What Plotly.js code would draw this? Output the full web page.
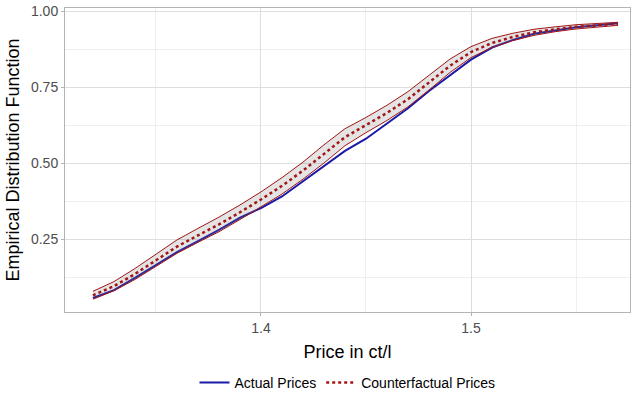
<!DOCTYPE html>
<html>
<head>
<script src="https://cdn.plot.ly/plotly-3.0.1.min.js"></script>
<style>body{margin:0}#plot{width:639px;height:403px}</style>
</head>
<body>
<div id="plot"></div>
<script>
const price = [1.32,1.33,1.34,1.35,1.36,1.37,1.38,1.39,1.40,1.41,1.42,1.43,1.44,1.45,1.46,1.47,1.48,1.49,1.50,1.51,1.52,1.53,1.54,1.55,1.56,1.57];
const actual = [0.056,0.082,0.122,0.165,0.207,0.243,0.28,0.32,0.352,0.39,0.44,0.49,0.54,0.58,0.63,0.68,0.737,0.79,0.84,0.88,0.905,0.925,0.937,0.947,0.953,0.96];
const counterfactual = [0.065,0.095,0.135,0.18,0.225,0.262,0.298,0.338,0.38,0.425,0.475,0.53,0.585,0.625,0.665,0.71,0.765,0.82,0.865,0.895,0.915,0.93,0.94,0.948,0.953,0.958];
const cfUpper = [0.078,0.11,0.153,0.2,0.247,0.285,0.322,0.362,0.405,0.452,0.503,0.56,0.613,0.65,0.69,0.735,0.79,0.842,0.883,0.91,0.927,0.94,0.948,0.955,0.959,0.963];
const cfLower = [0.052,0.08,0.117,0.16,0.203,0.239,0.274,0.314,0.355,0.398,0.447,0.5,0.557,0.6,0.64,0.685,0.74,0.798,0.847,0.88,0.903,0.92,0.932,0.941,0.947,0.953];

const red = '#a31515';
const data = [
  {x: price, y: actual, mode: 'lines', name: 'Actual Prices', line: {color: '#1a1aa6', width: 2}},
  {x: price, y: cfLower, mode: 'lines', line: {color: red, width: 1}, showlegend: false, hoverinfo: 'skip'},
  {x: price, y: cfUpper, mode: 'lines', line: {color: red, width: 1}, fill: 'tonexty',
   fillcolor: 'rgba(120,120,120,0.2)', showlegend: false, hoverinfo: 'skip'},
  {x: price, y: counterfactual, mode: 'lines', name: 'Counterfactual Prices', line: {color: red, width: 2.5, dash: 'dot'}}
];

const layout = {
  width: 639, height: 403,
  margin: {l: 65, r: 9, t: 8, b: 91, autoexpand: false},
  paper_bgcolor: 'white', plot_bgcolor: 'white',
  font: {family: 'Arial, Liberation Sans, sans-serif', color: '#4d4d4d'},
  xaxis: {
    range: [1.3067, 1.5757], tick0: 1.4, dtick: 0.1, tickformat: '.1f',
    showgrid: true, gridcolor: '#dedede', gridwidth: 1, zeroline: false,
    minor: {dtick: 0.05, tick0: 1.35, showgrid: true, gridcolor: '#efefef'},
    ticks: 'outside', ticklen: 3, tickcolor: '#b3b3b3', tickfont: {size: 14, color: '#4d4d4d'},
    showline: true, mirror: true, linecolor: '#b3b3b3',
    title: {text: 'Price in ct/l', font: {size: 18, color: 'black'}, standoff: 10}
  },
  yaxis: {
    range: [0.01, 1.01], tick0: 0, dtick: 0.25, tickformat: '.2f',
    showgrid: true, gridcolor: '#dedede', zeroline: false,
    minor: {dtick: 0.125, tick0: 0, showgrid: true, gridcolor: '#efefef'},
    ticks: 'outside', ticklen: 3, tickcolor: '#b3b3b3', tickfont: {size: 14, color: '#4d4d4d'},
    showline: true, mirror: true, linecolor: '#b3b3b3',
    title: {text: 'Empirical Distribution Function', font: {size: 18, color: 'black'}, standoff: 6}
  },
  legend: {orientation: 'h', traceorder: 'normal', x: 0.5, xanchor: 'center',
    yref: 'container', y: 0.01, yanchor: 'bottom', font: {size: 14, color: 'black'}},
  showlegend: true
};
Plotly.newPlot('plot', data, layout, {displayModeBar: false});
</script>
</body>
</html>
